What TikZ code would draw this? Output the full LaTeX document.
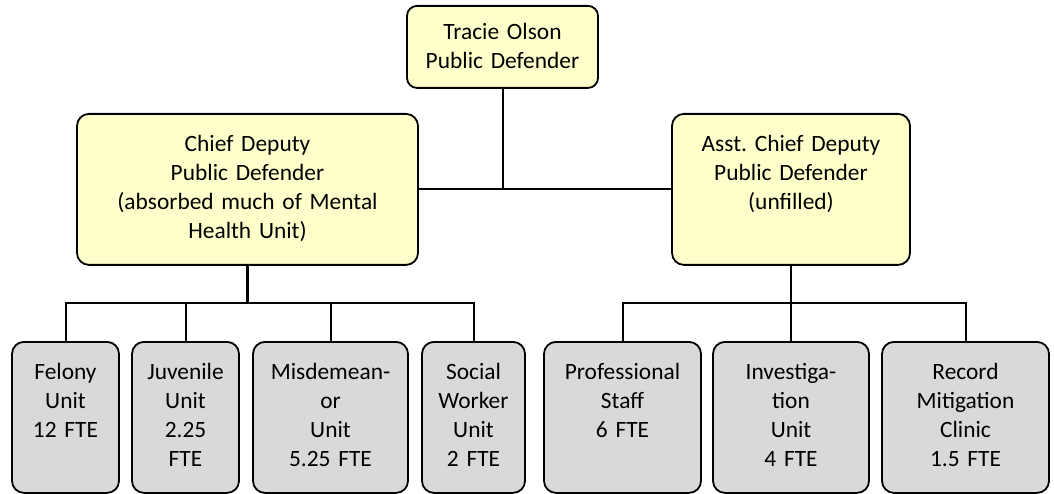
\documentclass[tikz,border=0pt]{standalone}
\usepackage{fontspec}
\setmainfont{Carlito}
\frenchspacing
\definecolor{headfill}{HTML}{FFFFCC}
\definecolor{unitfill}{HTML}{D9D9D9}

\begin{document}
\begin{tikzpicture}[x=1pt,y=-1pt,
        font=\fontsize{23.4}{29}\selectfont,
        box/.style={draw,line width=1.8pt,rounded corners=12pt,anchor=north,
          inner xsep=0pt,inner ysep=0pt,align=center,
          text height=38pt,text depth=113pt},
        head node/.style={box,fill=headfill},
        unit node/.style={box,fill=unitfill},
        link/.style={line width=2pt}]

        \useasboundingbox (0,0) rectangle (1054,494);

        % top row
        \node[head node] [text width=191pt,text height=34pt,text depth=48pt,rounded corners=10pt]
          (boss) at (502.5,5) {Tracie Olson\\Public Defender};
        \node[head node] [text width=341pt] (chief) at (247.5,113)
          {Chief Deputy\\Public Defender\\(absorbed much of Mental\\Health Unit)};
        \node[head node] [text width=238pt] (asst) at (791,113)
          {Asst. Chief Deputy\\Public Defender\\(unfilled)};

        % units
        \node[unit node] [text width=107pt] (felony) at (65.5,341) {Felony\\Unit\\12 FTE};
        \node[unit node] [text width=107pt] (juv) at (185.5,341) {Juvenile\\Unit\\2.25\\FTE};
        \node[unit node] [text width=155pt] (misd) at (330.5,341) {Misdemean-\\or\\Unit\\5.25 FTE};
        \node[unit node] [text width=103pt] (social) at (473.5,341) {Social\\Worker\\Unit\\2 FTE};
        \node[unit node] [text width=157pt] (prof) at (622.5,341) {Professional\\Staff\\6 FTE};
        \node[unit node] [text width=156pt] (invest) at (791,341) {Investiga-\\tion\\Unit\\4 FTE};
        \node[unit node] [text width=167pt] (record) at (965.5,341) {Record\\Mitigation\\Clinic\\1.5 FTE};

        \coordinate (lbus) at (247.5,303);
        \coordinate (rbus) at (791,303);

        \draw[link] (felony.north) |- (lbus) -| (social.north);
        \draw[link] (prof.north) |- (rbus) -| (record.north);

        \path[link]
          (boss) edge (boss |- chief.east)
          (chief.east) edge (asst.west)
          (chief) edge [line width=3pt] (lbus)
          (juv) edge (juv |- lbus)
          (misd) edge (misd |- lbus)
          (asst.south) edge (invest.north)
          ;
    \end{tikzpicture}
\end{document}
